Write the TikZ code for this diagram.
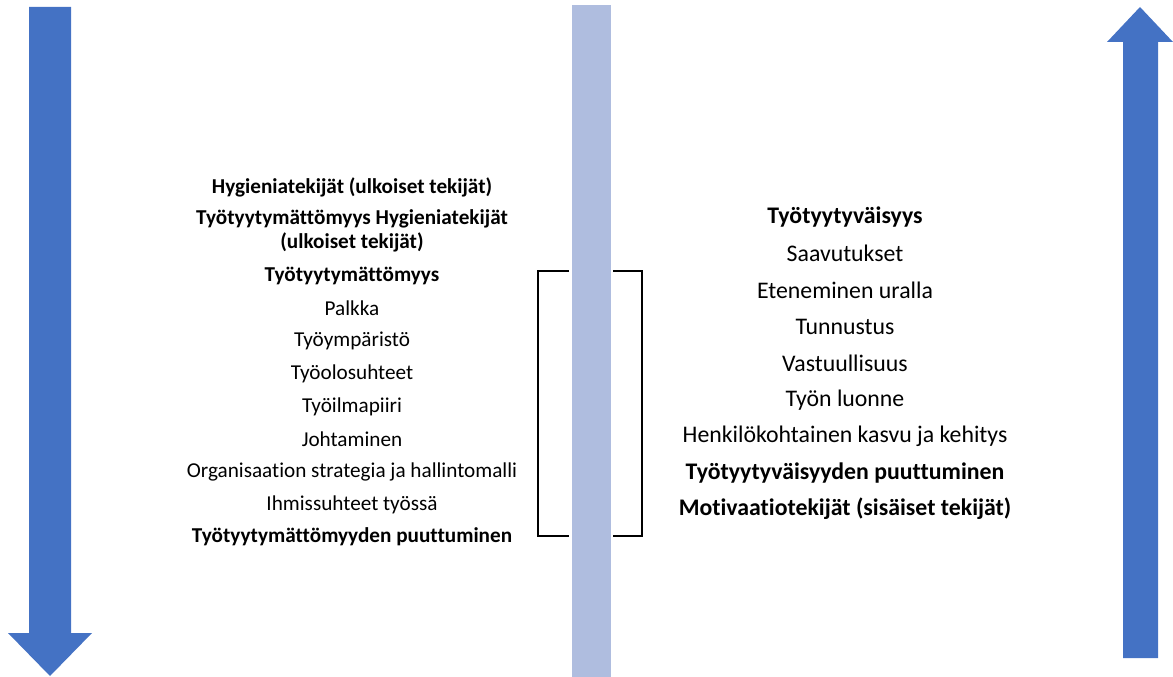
\documentclass[tikz,border=0pt]{standalone}
\usepackage{fontspec}
\setmainfont{Carlito}[Ligatures=NoCommon]
\definecolor{arrowblue}{HTML}{4472C4}
\definecolor{barblue}{HTML}{AFBDDF}
\tikzset{
	lefttxt/.style={font=\fontsize{21.2}{24.5}\selectfont, inner sep=0pt, align=center},
	leftbold/.style={lefttxt, font=\fontsize{21.2}{24.5}\selectfont\bfseries},
	righttxt/.style={font=\fontsize{23.8}{28}\selectfont, inner sep=0pt, align=center},
	rightbold/.style={righttxt, font=\fontsize{23.8}{28}\selectfont\bfseries},
}
\begin{document}
\begin{tikzpicture}[x=1pt,y=-1pt,line join=miter]
	\useasboundingbox (0,0) rectangle (1173,677);
	% arrows and middle bar
	\fill[arrowblue] (29,7)--(71,7)--(71,633)--(92,633)--(50,676)--(8,633)--(29,633)--cycle;
	\fill[arrowblue] (1123,658)--(1158,658)--(1158,42)--(1173,42)--(1140,7)--(1107,42)--(1123,42)--cycle;
	\fill[barblue] (572,5) rectangle (611,677);
	% brackets
	\draw[line width=1.2pt] (569,271)--(538,271)--(538,536)--(569,536);
	\draw[line width=1.2pt] (613,271)--(642,271)--(642,536)--(613,536);
	% left column
	\node[leftbold] (hyg) at (352,187) {Hygieniatekijät (ulkoiset tekijät)};
	\node[leftbold] (tyhyg) at (352,231) {Työtyytymättömyys Hygieniatekijät\\(ulkoiset tekijät)};
	\node[leftbold] (tyt) at (352,276) {Työtyytymättömyys};
	\foreach \txt [count=\i] in {Palkka,Työympäristö,Työolosuhteet,Työilmapiiri,Johtaminen,Organisaation strategia ja hallintomalli,Ihmissuhteet työssä}
		\node[lefttxt] (hy\i) at (352,{276+32.7*\i}) {\txt};
	\node[leftbold] (tytp) at (352,537) {Työtyytymättömyyden puuttuminen};
	% right column
	\node[rightbold] (tyv) at (845,217) {Työtyytyväisyys};
	\foreach \txt [count=\i] in {Saavutukset,Eteneminen uralla,Tunnustus,Vastuullisuus,Työn luonne,Henkilökohtainen kasvu ja kehitys}
		\node[righttxt] (mo\i) at (845,{217+36.6*\i}) {\txt};
	\node[rightbold] (tyvp) at (845,473) {Työtyytyväisyyden puuttuminen};
	\node[rightbold] (mot) at (845,509) {Motivaatiotekijät (sisäiset tekijät)};
\end{tikzpicture}
\end{document}
